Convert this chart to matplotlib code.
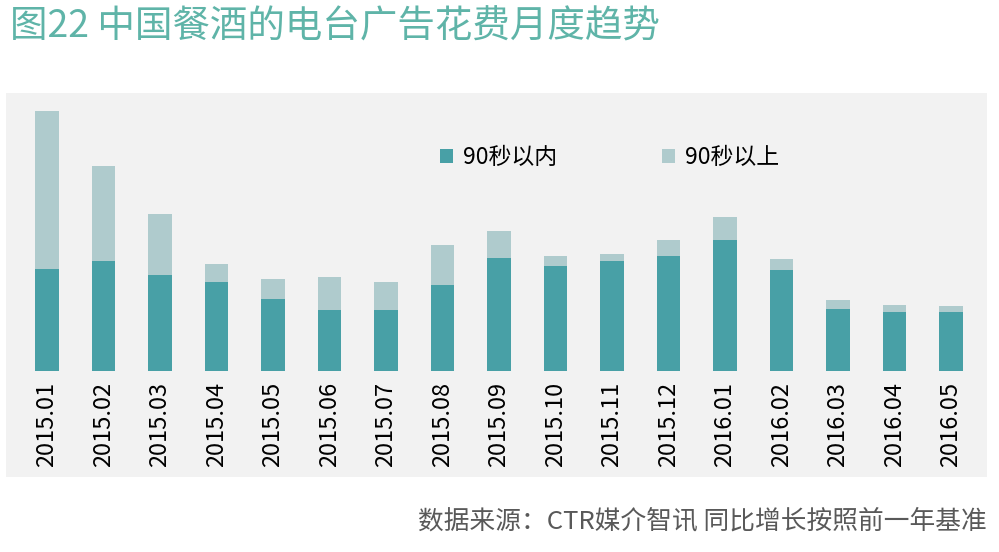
import matplotlib
matplotlib.use('Agg')
from matplotlib import pyplot as plt
import numpy as np

plt.rcParams['font.family'] = ['Noto Sans CJK SC', 'DejaVu Sans']

months = ['2015.01', '2015.02', '2015.03', '2015.04', '2015.05', '2015.06',
          '2015.07', '2015.08', '2015.09', '2015.10', '2015.11', '2015.12',
          '2016.01', '2016.02', '2016.03', '2016.04', '2016.05']
within90 = [102, 110, 96, 89, 72, 61, 61, 86, 113, 105, 110, 115, 131, 101, 62, 59, 59]
over90 = [158, 95, 61, 18, 20, 33, 28, 40, 27, 10, 7, 16, 23, 11, 9, 7, 6]

title = '图22 中国餐酒的电台广告花费月度趋势'
source = '数据来源：CTR媒介智讯 同比增长按照前一年基准'
labels = ['90秒以内', '90秒以上']

c_in = '#48a0a6'
c_over = '#afcbcd'
c_title = '#5fb4a8'

W, H = 999, 552
fig = plt.figure(figsize=(W / 100, H / 100), dpi=100)

# grey panel behind the chart
bg = fig.add_axes([6 / W, 1 - 477 / H, 981 / W, 384 / H])
bg.set_facecolor('#f2f2f2')
bg.set_xticks([])
bg.set_yticks([])
for s in bg.spines.values():
    s.set_visible(False)

ax = fig.add_axes([6 / W, 1 - 370.7 / H, 981 / W, 270.7 / H])
ax.patch.set_alpha(0)

x = np.arange(len(months))
ax.bar(x, within90, width=0.41, color=c_in, label=labels[0])
ax.bar(x, over90, width=0.41, bottom=within90, color=c_over, label=labels[1])

ax.set_xlim(-0.726, 16.637)
ax.set_ylim(0, 270.7)
ax.set_xticks(x)
ax.set_xticklabels(months, rotation=90, fontsize=17)
ax.tick_params(axis='x', length=0, pad=8)
ax.set_yticks([])
for s in ax.spines.values():
    s.set_visible(False)

ax.legend(ncol=2, frameon=False, loc='center left', fontsize=16.5,
          bbox_to_anchor=(440 / W, 1 - 158 / H), bbox_transform=fig.transFigure,
          borderpad=0, borderaxespad=0, handlelength=0.55, handleheight=0.55,
          handletextpad=0.44, columnspacing=4.6)

fig.text(10 / W, 1 - 27 / H, title, fontsize=27, color=c_title, va='center', ha='left')
fig.text(987 / W, 1 - 521 / H, source, fontsize=18.5, color='#595959', va='center', ha='right')

fig.savefig('out.png', dpi=100)
